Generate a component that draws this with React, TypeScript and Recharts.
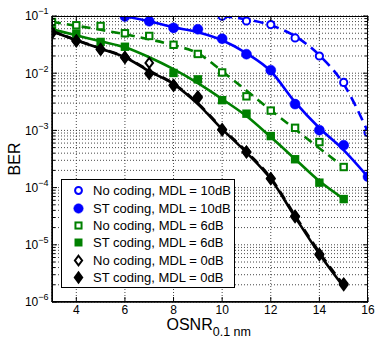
import React from "react";
import {
  ComposedChart,
  Line,
  Scatter,
  XAxis,
  YAxis,
  CartesianGrid,
  Label,
} from "recharts";

// OSNR (dB, 0.1 nm) grid used by the fitted curves
const osnr = [3, 4, 5, 6, 7, 8, 9, 10, 11, 12, 13, 14, 15, 16];

// fitted curves (BER), null where a curve is not drawn
const blueNoFit = [null, null, null, null, null, null, null, 0.099, 0.0876, 0.0689, 0.0444, 0.0206, 0.00643, 0.00093];
const blueStFit = [null, null, null, 0.0988, 0.0808, 0.0635, 0.052, 0.0377, 0.0223, 0.0108, 0.00312, 0.0011, 0.000453, 0.000153];
const greenNoFit = [0.0792, 0.0675, 0.0574, 0.0479, 0.0392, 0.0308, 0.0223, 0.0108, 0.00496, 0.00226, 0.00105, 0.000489, 0.000229, null];
const greenStFit = [0.0586, 0.046, 0.0361, 0.0284, 0.019, 0.01175, 0.00668, 0.00352, 0.00178, 0.000764, 0.000316, 0.00013, 0.0000632, null];
const blackNoFit = [0.0545, 0.038, 0.0272, 0.0194, 0.0111, 0.0066, 0.00298, 0.00109, 0.000428, 0.000148, 0.0000325, 0.0000074, 0.00000198, null];
const blackStFit = [0.0541, 0.0377, 0.0268, 0.019, 0.0108, 0.00643, 0.00288, 0.00105, 0.00041, 0.000141, 0.0000307, 0.00000693, 0.00000184, null];

// measured points (BER)
const blueNoPts = [null, null, null, null, null, null, null, 0.099, 0.0818, 0.0708, 0.0413, 0.02, 0.0069, 0.00092];
const blueStPts = [null, null, null, 0.098, 0.081, 0.062, 0.0586, 0.04, 0.0215, 0.0113, 0.00288, 0.00101, 0.00055, 0.000155];
const greenNoPts = [0.0786, 0.0689, 0.0669, 0.0499, 0.0448, 0.0314, 0.0217, 0.0103, 0.00394, 0.00222, 0.00111, 0.000625, 0.000229, null];
const greenStPts = [0.056, 0.0493, 0.0352, 0.029, null, 0.0101, 0.0078, 0.00338, 0.00196, 0.000796, 0.000313, 0.000122, 0.000063, null];
const blackNoPts = [0.0515, 0.037, 0.0262, 0.019, 0.0151, 0.0062, 0.0039, 0.00102, 0.00042, 0.000145, 0.000032, 0.0000069, 0.0000021, null];
const blackStPts = [0.0505, 0.0366, 0.0259, 0.0188, 0.00988, 0.0061, 0.00373, 0.00104, 0.000418, 0.000143, 0.000031, 0.0000067, 0.000002, null];

const legendLabels = [
  "No coding, MDL = 10dB",
  "ST coding, MDL = 10dB",
  "No coding, MDL = 6dB",
  "ST coding, MDL = 6dB",
  "No coding, MDL = 0dB",
  "ST coding, MDL = 0dB",
];

const xTicks = [4, 6, 8, 10, 12, 14, 16];
const decades = [-6, -5, -4, -3, -2, -1];

const yTicks: number[] = [];
decades.forEach((e) => {
  if (e === -1) {
    yTicks.push(0.1);
    return;
  }
  for (let m = 1; m <= 9; m++) yTicks.push(Number((m * Math.pow(10, e)).toPrecision(3)));
});

const BLUE = "#0000ff";
const GREEN = "#008000";
const BLACK = "#000000";
const FONT = "'Liberation Sans', Arial, Helvetica, sans-serif";

const PLOT_L = 52;
const PLOT_R = 368;
const PLOT_T = 16;
const PLOT_B = 302;

const fitRows = osnr.map((x, i) => ({
  x,
  blueNo: blueNoFit[i],
  blueSt: blueStFit[i],
  greenNo: greenNoFit[i],
  greenSt: greenStFit[i],
  blackNo: blackNoFit[i],
  blackSt: blackStFit[i],
}));

const toPts = (vals: (number | null)[]) =>
  osnr.map((x, i) => ({ x, y: vals[i] })).filter((p) => p.y != null);

const isMajor = (v: number) => Math.abs(Math.log10(v) - Math.round(Math.log10(v))) < 1e-6;

// marker shapes ("k" scales the legend copies; Scatter passes its own "size")
const OpenCircle = ({ cx, cy, k = 1 }: any) => (
  <circle cx={cx} cy={cy} r={3.6 * k} fill="#fff" stroke={BLUE} strokeWidth={2} />
);
const FullCircle = ({ cx, cy, k = 1 }: any) => (
  <circle cx={cx} cy={cy} r={5 * k} fill={BLUE} stroke={BLUE} strokeWidth={0.5} />
);
const OpenSquare = ({ cx, cy, k = 1 }: any) => {
  const h = 3.2 * k;
  return <rect x={cx - h} y={cy - h} width={2 * h} height={2 * h} fill="#fff" stroke={GREEN} strokeWidth={2} />;
};
const FullSquare = ({ cx, cy, k = 1 }: any) => {
  const h = 4.2 * k;
  return <rect x={cx - h} y={cy - h} width={2 * h} height={2 * h} fill={GREEN} />;
};
const OpenDiamond = ({ cx, cy, k = 1 }: any) => {
  const w = 3.8 * k;
  const h = 5 * k;
  return (
    <polygon
      points={`${cx},${cy - h} ${cx + w},${cy} ${cx},${cy + h} ${cx - w},${cy}`}
      fill="#fff"
      stroke={BLACK}
      strokeWidth={2}
    />
  );
};
const FullDiamond = ({ cx, cy, k = 1 }: any) => {
  const w = 5.2 * k;
  const h = 7 * k;
  return <polygon points={`${cx},${cy - h} ${cx + w},${cy} ${cx},${cy + h} ${cx - w},${cy}`} fill={BLACK} />;
};

const markers = [OpenCircle, FullCircle, OpenSquare, FullSquare, OpenDiamond, FullDiamond];

const YTick = ({ y, payload }: any) => {
  const v = payload.value as number;
  const major = isMajor(v);
  const exp = Math.round(Math.log10(v));
  return (
    <g>
      <line x1={PLOT_L} x2={PLOT_L + (major ? 5 : 3)} y1={y} y2={y} stroke="#000" />
      <line x1={PLOT_R} x2={PLOT_R - (major ? 5 : 3)} y1={y} y2={y} stroke="#000" />
      {major && (
        <text x={48.5} y={y + 4.3} textAnchor="end" fontSize={12} fontFamily={FONT} fill="#000">
          10
          <tspan dy={-6} fontSize={9}>
            {"\u2212" + Math.abs(exp)}
          </tspan>
        </text>
      )}
    </g>
  );
};

const XTick = ({ x, payload }: any) => (
  <g>
    <line x1={x} x2={x} y1={PLOT_B} y2={PLOT_B - 5} stroke="#000" />
    <line x1={x} x2={x} y1={PLOT_T} y2={PLOT_T + 5} stroke="#000" />
    <text x={x} y={313.5} textAnchor="middle" fontSize={12} fontFamily={FONT} fill="#000">
      {payload.value}
    </text>
  </g>
);

const XLabel = () => (
  <text x={166.5} y={330} fontSize={16} fontFamily={FONT} fill="#000">
    OSNR
    <tspan dy={6} fontSize={12.5}>
      0.1 nm
    </tspan>
  </text>
);

const YLabel = () => (
  <text
    x={20}
    y={159}
    transform="rotate(-90 20 159)"
    textAnchor="middle"
    fontSize={16}
    fontFamily={FONT}
    fill="#000"
  >
    BER
  </text>
);

const fitSeries = [
  { key: "blueNo", color: BLUE, dash: "10 6" },
  { key: "blueSt", color: BLUE, dash: undefined },
  { key: "greenNo", color: GREEN, dash: "9 6" },
  { key: "greenSt", color: GREEN, dash: undefined },
  { key: "blackNo", color: BLACK, dash: "9 6" },
  { key: "blackSt", color: BLACK, dash: undefined },
];

const pointSeries = [blueNoPts, blueStPts, greenNoPts, greenStPts, blackNoPts, blackStPts];

export default function App() {
  return (
    <div style={{ position: "absolute", left: 0, top: 0, width: 376, height: 340, background: "#fff" }}>
      <ComposedChart
        width={376}
        height={340}
        data={fitRows}
        margin={{ top: PLOT_T, right: 376 - PLOT_R, bottom: 0, left: 0 }}
      >
        <CartesianGrid stroke="#333" strokeDasharray="1 2" strokeWidth={0.9} fill="none" />
        <XAxis
          dataKey="x"
          type="number"
          domain={[3, 16]}
          ticks={xTicks}
          allowDataOverflow
          height={340 - PLOT_B}
          tickLine={false}
          axisLine={{ stroke: "#000", strokeWidth: 1.5 }}
          tick={<XTick />}
          interval={0}
        >
          <Label content={<XLabel />} />
        </XAxis>
        <YAxis
          type="number"
          scale="log"
          domain={[1e-6, 1e-1]}
          ticks={yTicks}
          allowDataOverflow
          width={PLOT_L}
          tickLine={false}
          axisLine={{ stroke: "#000", strokeWidth: 1.5 }}
          tick={<YTick />}
          interval={0}
        >
          <Label content={<YLabel />} />
        </YAxis>
        {fitSeries.map((s) => (
          <Line
            key={s.key}
            dataKey={s.key}
            type="monotone"
            stroke={s.color}
            strokeWidth={2.6}
            strokeDasharray={s.dash}
            dot={false}
            activeDot={false}
            isAnimationActive={false}
          />
        ))}
        {pointSeries.map((pts, i) => {
          const M = markers[i];
          return (
            <Scatter
              key={`pts-${i}`}
              data={toPts(pts)}
              dataKey="y"
              shape={(p: any) => <M cx={p.cx} cy={p.cy} />}
              isAnimationActive={false}
            />
          );
        })}
      </ComposedChart>
      <div
        style={{
          position: "absolute",
          left: PLOT_L,
          top: PLOT_T,
          width: PLOT_R - PLOT_L,
          height: PLOT_B - PLOT_T,
          border: "1px solid #000",
          boxSizing: "border-box",
          pointerEvents: "none",
        }}
      />
      <div
        style={{
          position: "absolute",
          left: 61,
          top: 179,
          width: 172,
          height: 105,
          border: "1.5px solid #000",
          background: "#fff",
          paddingTop: 2,
          boxSizing: "content-box",
          fontFamily: FONT,
          fontSize: 13,
        }}
      >
        {legendLabels.map((label, i) => {
          const M = markers[i];
          return (
            <div key={label} style={{ display: "flex", alignItems: "center", height: 17.4, whiteSpace: "nowrap" }}>
              <svg width={31} height={17} style={{ flex: "none" }}>
                <M cx={16.5} cy={8.5} k={0.95} />
              </svg>
              <span>{label}</span>
            </div>
          );
        })}
      </div>
    </div>
  );
}
